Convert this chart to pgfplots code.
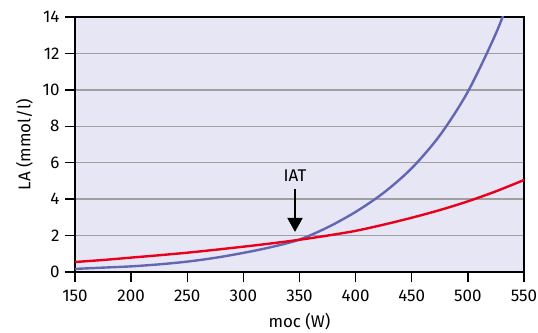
\documentclass[border=0pt]{standalone}
\usepackage{pgfplots}
\pgfplotsset{compat=1.18}
\usepackage{fontspec}
\setmainfont{Fira Sans}
\usetikzlibrary{arrows.meta}
\definecolor{bgl}{HTML}{E6E6F4}
\definecolor{bluec}{HTML}{6367B3}
\definecolor{redc}{HTML}{E8001C}
\definecolor{gridc}{HTML}{A0A0A0}
\begin{document}
\begin{tikzpicture}
\path[use as bounding box] (-75bp,-61bp) rectangle (463bp,272bp);
\begin{axis}[
  at={(0,0)}, anchor=south west,
  scale only axis, width=449bp, height=255bp,
  xmin=150, xmax=550, ymin=0, ymax=14,
  xtick={150,200,...,550}, ytick={0,2,...,14},
  axis background/.style={fill=bgl},
  axis line style={line width=1.3bp, black},
  tick align=outside, tick pos=left,
  major tick length=10bp,
  every tick/.style={line width=1.3bp, black},
  ymajorgrids, major grid style={line width=1.4bp, gridc},
  /pgf/number format/assume math mode=true,
  /pgf/number format/1000 sep={},
  tick label style={font=\fontsize{17}{20}\selectfont},
  xticklabel style={yshift=-4bp},
  yticklabel style={xshift=-2bp},
  label style={font=\fontsize{17}{20}\selectfont},
  xlabel={moc (W)}, ylabel={LA (mmol/l)},
  xlabel style={yshift=-5.5bp},
  ylabel style={yshift=3bp},
  clip=true,
]
\addplot[smooth, line width=2.4bp, bluec] coordinates {
 (150,0.17) (175,0.24) (200,0.31) (225,0.42) (250,0.57) (275,0.78)
 (300,1.05) (325,1.37) (350,1.78) (375,2.45) (400,3.3) (425,4.35)
 (450,5.7) (475,7.5) (500,9.9) (525,13.1) (540,15.5)
};
\addplot[smooth, line width=2.4bp, redc] coordinates {
 (150,0.55) (175,0.66) (200,0.79) (225,0.92) (250,1.06) (275,1.22)
 (300,1.39) (325,1.57) (350,1.77) (375,2.0) (400,2.26) (425,2.6)
 (450,2.98) (475,3.4) (500,3.88) (525,4.43) (550,5.05)
};
\draw[line width=2bp, -{Triangle[width=15bp,length=14bp]}] (axis cs:346,4.55) -- (axis cs:346,2.2);
\node[font=\fontsize{17}{20}\selectfont] at (axis cs:346,5.3) {IAT};
\end{axis}
\end{tikzpicture}
\end{document}
